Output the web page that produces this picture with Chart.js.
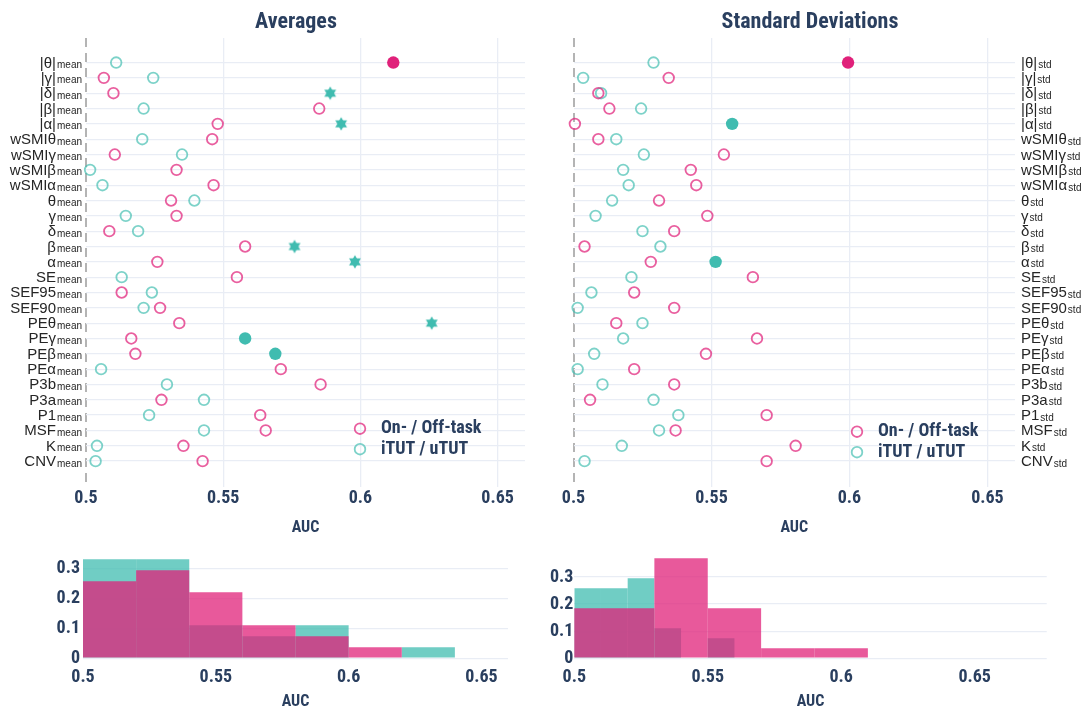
<!DOCTYPE html>
<html>
<head>
<meta charset="utf-8">
<script src="https://cdn.jsdelivr.net/npm/chart.js@4.4.1/dist/chart.umd.min.js"></script>
<style>
    body { margin: 0; background: #fff; }
    .panel { position: absolute; }
</style>
</head>
<body>
<div class="panel" style="left:0;top:0;width:540px;height:540px"><canvas id="avg"></canvas></div>
<div class="panel" style="left:540px;top:0;width:541px;height:540px"><canvas id="std"></canvas></div>
<div class="panel" style="left:0;top:540px;width:540px;height:175px"><canvas id="avg-hist"></canvas></div>
<div class="panel" style="left:540px;top:540px;width:541px;height:175px"><canvas id="std-hist"></canvas></div>
<script>
const FEATURES = ["|θ|", "|γ|", "|δ|", "|β|", "|α|", "wSMIθ", "wSMIγ", "wSMIβ", "wSMIα", "θ", "γ", "δ", "β", "α",
    "SE", "SEF95", "SEF90", "PEθ", "PEγ", "PEβ", "PEα", "P3b", "P3a", "P1", "MSF", "K", "CNV"];

// AUC per feature, averages panel
const AVG_ONOFF = [0.612, 0.5065, 0.510, 0.585, 0.548, 0.546, 0.5105, 0.533, 0.5465, 0.531, 0.533, 0.5085, 0.558, 0.526,
    0.555, 0.513, 0.527, 0.534, 0.5165, 0.518, 0.571, 0.5855, 0.5275, 0.5635, 0.5655, 0.5355, 0.5425];
const AVG_ONOFF_MARK = ["f", "o", "o", "o", "o", "o", "o", "o", "o", "o", "o", "o", "o", "o",
    "o", "o", "o", "o", "o", "o", "o", "o", "o", "o", "o", "o", "o"];
const AVG_TUT = [0.511, 0.5245, 0.589, 0.521, 0.593, 0.5205, 0.535, 0.5015, 0.506, 0.5395, 0.5145, 0.519, 0.576, 0.598,
    0.513, 0.524, 0.521, 0.626, 0.558, 0.569, 0.5055, 0.5295, 0.543, 0.523, 0.543, 0.504, 0.5035];
const AVG_TUT_MARK = ["o", "o", "s", "o", "s", "o", "o", "o", "o", "o", "o", "o", "s", "s",
    "o", "o", "o", "s", "f", "f", "o", "o", "o", "o", "o", "o", "o"];

// AUC per feature, standard deviations panel
const STD_ONOFF = [0.5995, 0.5345, 0.509, 0.513, 0.5005, 0.509, 0.5545, 0.5425, 0.5445, 0.531, 0.5485, 0.5365, 0.504, 0.528,
    0.565, 0.522, 0.5365, 0.5155, 0.5665, 0.548, 0.522, 0.5365, 0.506, 0.570, 0.537, 0.5805, 0.570];
const STD_ONOFF_MARK = ["f", "o", "o", "o", "o", "o", "o", "o", "o", "o", "o", "o", "o", "o",
    "o", "o", "o", "o", "o", "o", "o", "o", "o", "o", "o", "o", "o"];
const STD_TUT = [0.529, 0.5035, 0.510, 0.5245, 0.5575, 0.5155, 0.5255, 0.518, 0.520, 0.514, 0.508, 0.525, 0.5315, 0.5515,
    0.521, 0.5065, 0.5015, 0.525, 0.518, 0.5075, 0.5015, 0.5105, 0.529, 0.538, 0.531, 0.5175, 0.504];
const STD_TUT_MARK = ["o", "o", "o", "o", "f", "o", "o", "o", "o", "o", "o", "o", "o", "f",
    "o", "o", "o", "o", "o", "o", "o", "o", "o", "o", "o", "o", "o"];

// histograms (bin centres, fraction of features)
const AVG_HIST_ONOFF_BINS = [0.51, 0.53, 0.55, 0.57, 0.59, 0.61];
const AVG_HIST_ONOFF = [0.259, 0.296, 0.222, 0.111, 0.074, 0.037];
const AVG_HIST_TUT_BINS = [0.51, 0.53, 0.55, 0.57, 0.59, 0.61, 0.63];
const AVG_HIST_TUT = [0.333, 0.333, 0.111, 0.074, 0.111, 0, 0.037];
const STD_HIST_ONOFF_BINS = [0.50, 0.52, 0.54, 0.56, 0.58, 0.60];
const STD_HIST_ONOFF = [0.185, 0.185, 0.370, 0.185, 0.037, 0.037];
const STD_HIST_TUT_BINS = [0.505, 0.515, 0.525, 0.535, 0.545, 0.555];
const STD_HIST_TUT = [0.259, 0.259, 0.296, 0.111, 0, 0.074];

const X_TICKS = [0.5, 0.55, 0.6, 0.65];
const HIST_Y_TICKS = [0, 0.1, 0.2, 0.3];

const MAGENTA = "#e0217a";
const CYAN = "#40bcb0";
const MAGENTA_RING = "rgba(224,33,122,0.72)";
const CYAN_RING = "rgba(64,188,176,0.68)";
const NAVY = "#2a3f5f";
const GRID = "#e9edf5";
const COND = "'Liberation Sans Narrow', 'Roboto Condensed', 'DejaVu Sans Condensed', sans-serif";
const LABEL_FONT = "15px 'Liberation Sans', Arial, sans-serif";
const SUB_FONT = "10px 'Liberation Sans', Arial, sans-serif";

// six-pointed star marker
const STAR = document.createElement("canvas");
STAR.width = 16;
STAR.height = 16;
(function () {
    const c = STAR.getContext("2d");
    c.fillStyle = CYAN;
    [-90, 90].forEach(start => {
        c.beginPath();
        for (let k = 0; k < 3; k++) {
            const a = (start + k * 120) * Math.PI / 180;
            const px = 8 + 6.8 * Math.cos(a), py = 8 + 6.8 * Math.sin(a);
            k === 0 ? c.moveTo(px, py) : c.lineTo(px, py);
        }
        c.closePath();
        c.fill();
    });
})();

const panelTitle = {
    id: "panelTitle",
    afterDraw(chart, args, opts) {
        const ctx = chart.ctx;
        ctx.save();
        ctx.font = `bold 22px ${COND}`;
        ctx.fillStyle = NAVY;
        ctx.textAlign = "center";
        ctx.textBaseline = "middle";
        ctx.fillText(opts.text, opts.x, 22);
        ctx.restore();
    }
};

const rowLabels = {
    id: "rowLabels",
    afterDraw(chart, args, opts) {
        const ctx = chart.ctx;
        const yScale = chart.scales.y;
        const area = chart.chartArea;
        ctx.save();
        ctx.fillStyle = "#262626";
        ctx.textBaseline = "alphabetic";
        ctx.textAlign = "left";
        FEATURES.forEach((name, i) => {
            const py = yScale.getPixelForValue(i);
            ctx.font = LABEL_FONT;
            const w1 = ctx.measureText(name).width;
            ctx.font = SUB_FONT;
            const w2 = ctx.measureText(opts.sub).width;
            const x0 = opts.side === "left" ? area.left - 4 - w1 - w2 - 1 : area.right + 6;
            ctx.font = LABEL_FONT;
            ctx.fillText(name, x0, py + 5);
            ctx.font = SUB_FONT;
            ctx.fillText(opts.sub, x0 + w1 + 1, py + 5.5);
        });
        ctx.restore();
    }
};

const boxLegend = {
    id: "boxLegend",
    afterDraw(chart, args, opts) {
        const ctx = chart.ctx;
        const area = chart.chartArea;
        const items = [["On- / Off-task", MAGENTA_RING], ["iTUT / uTUT", CYAN_RING]];
        ctx.save();
        items.forEach(([text, color], i) => {
            const cx = area.left + opts.dx;
            const cy = area.top + opts.dy + i * 20.5;
            ctx.beginPath();
            ctx.arc(cx, cy, 5.3, 0, Math.PI * 2);
            ctx.lineWidth = 1.8;
            ctx.strokeStyle = color;
            ctx.stroke();
            ctx.font = `bold 18px ${COND}`;
            ctx.fillStyle = NAVY;
            ctx.textBaseline = "middle";
            ctx.fillText(text, cx + 21, cy);
        });
        ctx.restore();
    }
};

function isHalf(v) {
    return Math.abs(v - 0.5) < 1e-9;
}

function tickLabel(v) {
    return String(Math.round(v * 100) / 100);
}

function scatterDataset(values, marks, color, ring) {
    return {
        data: values.map((v, i) => ({x: v, y: i})),
        clip: false,
        pointStyle: c => marks[c.dataIndex] === "s" ? STAR : "circle",
        pointRadius: c => marks[c.dataIndex] === "o" ? 5.3 : 6.2,
        pointBorderWidth: c => marks[c.dataIndex] === "o" ? 1.8 : 0,
        pointBackgroundColor: c => marks[c.dataIndex] === "o" ? "rgba(0,0,0,0)" : color,
        pointBorderColor: c => marks[c.dataIndex] === "o" ? ring : color,
        pointHoverRadius: 6
    };
}

function setupScatter(canvasId, title, sub, onoff, onoffMark, tut, tutMark, layout) {
    const ctx = document.getElementById(canvasId).getContext("2d");
    return new Chart(ctx, {
        type: "scatter",
        data: {
            datasets: [
                scatterDataset(onoff, onoffMark, MAGENTA, MAGENTA_RING),
                scatterDataset(tut, tutMark, CYAN, CYAN_RING)
            ]
        },
        options: {
            responsive: true,
            maintainAspectRatio: false,
            animation: false,
            layout: {padding: layout.padding},
            scales: {
                x: {
                    type: "linear",
                    min: 0.5,
                    max: 0.66,
                    afterBuildTicks: s => { s.ticks = X_TICKS.map(v => ({value: v})); },
                    grid: {
                        drawTicks: false,
                        color: c => c.tick && isHalf(c.tick.value) ? "#b4b4b4" : GRID,
                        lineWidth: c => c.tick && isHalf(c.tick.value) ? 2 : 1.3
                    },
                    border: {display: false, dash: c => c.tick && isHalf(c.tick.value) ? [9, 6] : []},
                    ticks: {
                        padding: 0,
                        color: NAVY,
                        font: {family: COND, size: 18, weight: "bold"},
                        callback: v => tickLabel(v)
                    },
                    title: {
                        display: true,
                        text: "AUC",
                        color: NAVY,
                        font: {family: COND, size: 16, weight: "bold"},
                        padding: {top: 10, bottom: 0}
                    }
                },
                y: {
                    type: "linear",
                    reverse: true,
                    min: -1.6,
                    max: 27.7,
                    afterBuildTicks: s => { s.ticks = FEATURES.map((_, i) => ({value: i})); },
                    afterFit: s => { s.width = 0; },
                    grid: {drawTicks: false, color: GRID, lineWidth: 1.3},
                    border: {display: false},
                    ticks: {display: false}
                }
            },
            plugins: {
                legend: {display: false},
                tooltip: {enabled: false},
                panelTitle: {text: title, x: layout.titleX},
                rowLabels: {sub: sub, side: layout.side},
                boxLegend: {dx: layout.legendDx, dy: layout.legendDy}
            }
        },
        plugins: [panelTitle, rowLabels, boxLegend]
    });
}

function histDataset(bins, heights, color, axis) {
    return {
        type: "bar",
        data: bins.map((b, i) => ({x: b, y: heights[i]})),
        xAxisID: axis,
        backgroundColor: color,
        borderWidth: 0,
        inflateAmount: 0,
        barPercentage: 1,
        categoryPercentage: 1,
        grouped: false,
        clip: 0
    };
}

function setupHist(canvasId, onoffBins, onoff, tutBins, tut, layout) {
    const ctx = document.getElementById(canvasId).getContext("2d");
    const xBase = {
        type: "linear",
        offset: false,
        min: 0.5,
        max: layout.xMax,
        afterBuildTicks: s => { s.ticks = X_TICKS.map(v => ({value: v})); }
    };
    return new Chart(ctx, {
        type: "bar",
        data: {
            datasets: [
                histDataset(onoffBins, onoff, "rgba(224,33,122,0.75)", "xb"),
                histDataset(tutBins, tut, "rgba(64,188,176,0.75)", "x")
            ]
        },
        options: {
            responsive: true,
            maintainAspectRatio: false,
            animation: false,
            layout: {padding: layout.padding},
            scales: {
                x: Object.assign({}, xBase, {
                    grid: {display: false, offset: false},
                    border: {display: false},
                    ticks: {
                        padding: 0,
                        color: NAVY,
                        font: {family: COND, size: 18, weight: "bold"},
                        callback: v => tickLabel(v)
                    },
                    title: {
                        display: true,
                        text: "AUC",
                        color: NAVY,
                        font: {family: COND, size: 16, weight: "bold"},
                        padding: {top: 5, bottom: 0}
                    }
                }),
                xb: Object.assign({}, xBase, {display: false, grid: {offset: false}}),
                y: {
                    type: "linear",
                    min: 0,
                    max: layout.yMax,
                    afterBuildTicks: s => { s.ticks = HIST_Y_TICKS.map(v => ({value: v})); },
                    afterFit: s => { s.width = layout.yWidth; },
                    grid: {drawTicks: false, color: GRID, lineWidth: 1.3},
                    border: {display: false},
                    ticks: {
                        padding: layout.yPad,
                        color: NAVY,
                        font: {family: COND, size: 18, weight: "bold"},
                        callback: v => tickLabel(v)
                    }
                }
            },
            plugins: {
                legend: {display: false},
                tooltip: {enabled: false}
            }
        }
    });
}

document.addEventListener("DOMContentLoaded", () => {
    setupScatter("avg", "Averages", "mean", AVG_ONOFF, AVG_ONOFF_MARK, AVG_TUT, AVG_TUT_MARK, {
        padding: {left: 86, right: 15, top: 38, bottom: 2},
        titleX: 296, side: "left", legendDx: 274, legendDy: 390.7
    });
    setupScatter("std", "Standard Deviations", "std", STD_ONOFF, STD_ONOFF_MARK, STD_TUT, STD_TUT_MARK, {
        padding: {left: 33.5, right: 66, top: 38, bottom: 2},
        titleX: 270, side: "right", legendDx: 283.5, legendDy: 393.7
    });
    setupHist("avg-hist", AVG_HIST_ONOFF_BINS, AVG_HIST_ONOFF, AVG_HIST_TUT_BINS, AVG_HIST_TUT, {
        padding: {left: 3, right: 32, top: 13, bottom: 3},
        xMax: 0.66, yMax: 0.351, yWidth: 80, yPad: 3
    });
    setupHist("std-hist", STD_HIST_ONOFF_BINS, STD_HIST_ONOFF, STD_HIST_TUT_BINS, STD_HIST_TUT, {
        padding: {left: 3.3, right: 34.3, top: 13, bottom: 3},
        xMax: 0.677, yMax: 0.389, yWidth: 31, yPad: 1
    });
});
</script>
</body>
</html>
